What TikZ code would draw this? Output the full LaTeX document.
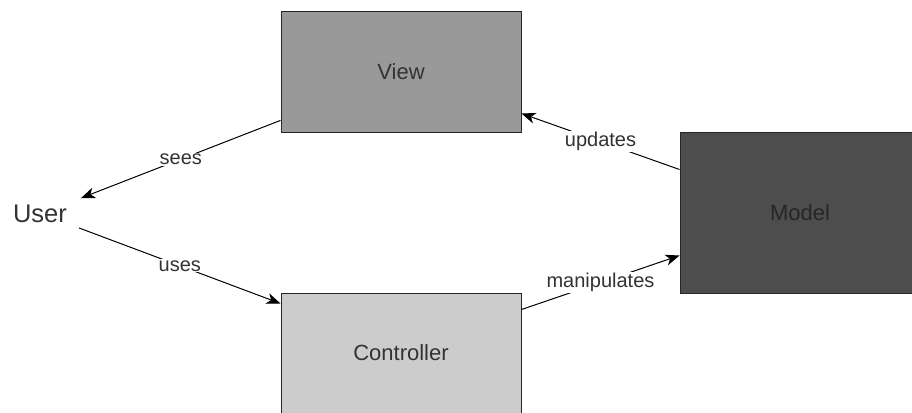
\documentclass[tikz,border=0pt]{standalone}
\usepackage{fontspec}
\setmainfont{Liberation Sans}
\usetikzlibrary{arrows.meta,calc}
\definecolor{viewc}{HTML}{999999}
\definecolor{ctrlc}{HTML}{CCCCCC}
\definecolor{modelc}{HTML}{4D4D4D}
\definecolor{txt}{HTML}{333333}
\begin{document}
\begin{tikzpicture}[x=1pt,y=-1pt,
  box/.style={draw=black!85, line width=1pt, minimum width=240pt, minimum height=120pt, inner sep=0pt, font=\fontsize{22}{26}\selectfont, text=txt},
  conn/.style={draw=black, line width=1pt, -{Stealth[length=14pt,width=11pt,inset=4pt]}},
  lbl/.style={fill=white, inner sep=1pt, font=\fontsize{20}{24}\selectfont, text=txt}]
\clip (0,0) rectangle (912,412);
\node[box, fill=viewc] (view) at (401,72) {View};
\node[box, fill=ctrlc] (ctrl) at (401,353) {Controller};
\node[box, fill=modelc, minimum width=260pt, minimum height=161pt, text=black!85] (model) at (810,212.5) {\hspace*{-20pt}Model};
\node[font=\fontsize{25.5}{30}\selectfont, text=txt, inner sep=0pt] (user) at (40,214) {User};
\coordinate (vs) at ($(view.south west)!0.1!(view.north west)$);
\coordinate (us1) at ($(user.east)+(14,-16)$);
\coordinate (us2) at ($(user.east)+(12,14)$);
\coordinate (cw) at ($(ctrl.north west)+(0,11)$);
\coordinate (mu) at ($(model.north west)+(0,38)$);
\coordinate (ve) at ($(view.south east)+(0,-19)$);
\coordinate (ce) at ($(ctrl.north east)+(0,17)$);
\coordinate (ml) at ($(model.south west)+(0,-38)$);
\draw[conn] (vs) -- node[lbl]{sees} (us1);
\draw[conn] (us2) -- node[lbl]{uses} (cw);
\draw[conn] (mu) -- node[lbl]{updates} (ve);
\draw[conn] (ce) -- node[lbl]{manipulates} (ml);
\end{tikzpicture}
\end{document}
